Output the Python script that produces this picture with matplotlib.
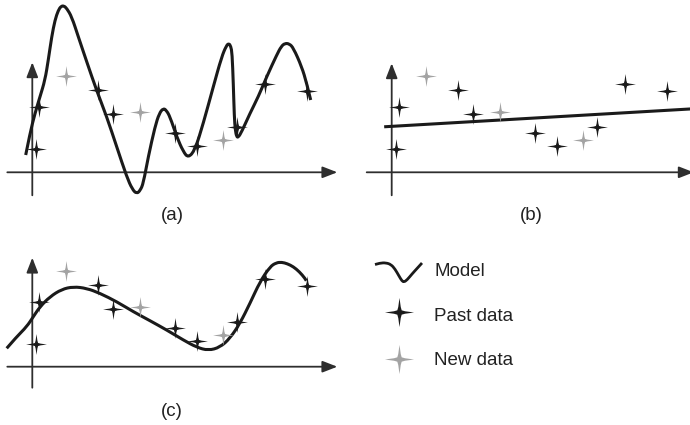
import numpy as np
import matplotlib
matplotlib.use("Agg")
import matplotlib.pyplot as plt
from matplotlib.path import Path
from matplotlib.patches import PathPatch

plt.rcParams['font.family'] = ['Liberation Sans', 'DejaVu Sans']

# ---- data (shared by all panels) ----
past_x = [4, 7, 66, 81, 143, 165, 205, 233, 275]
past_y = [23, 65, 82, 58, 39, 26, 45, 88, 81]
new_x = [34, 108, 191]
new_y = [96, 60, 32]

# (a) over-fitted model curve
model_a_x = [-6.6, -2.3, 2.7, 7.7, 12.7, 16, 19.4, 22.7, 26, 28.7, 31.5, 34.4, 39.4, 46, 54.4,
             64.4, 74.4, 84.4, 94.4, 100, 104.4, 108, 111, 116, 122.7, 127, 131, 134,
             137.7, 144.4, 151, 156, 162.7, 171, 181, 189.4, 194, 196.5, 198.5, 199.8,
             201, 202, 203, 204.4, 206, 209.4, 217.7, 226, 234.4, 244.4, 249, 252.7,
             257, 261, 269.4, 274.4, 278.4]
model_a_y = [17.3, 39, 59, 75.6, 92.3, 112.3, 135.6, 152.3, 162, 166, 166.5, 164, 155.6, 135.6, 110.6,
             81.6, 55.6, 25.6, -4.4, -17, -21.5, -18, -11, 15.6, 45.6, 59, 64, 62,
             55.6, 35.6, 20.6, 14.5, 22.3, 49, 85.6, 115.6, 126.5, 129, 126, 119,
             89, 55.6, 42, 35.5, 35, 40.6, 59, 75.6, 95.6, 117.3, 126, 129,
             128.5, 124.5, 105.6, 89, 72.3]

# (b) under-fitted model line
model_b_x = [-6, 310]
model_b_y = [45.6, 64.0]

# (c) well-fitted model curve
model_c_x = [-25.6, -15.6, -5.6, 1, 7.7, 17.7, 29.4, 41, 54.4, 67.7, 84.4, 101, 117.7,
             134.4, 151, 164.4, 176, 187.7, 197.7, 207.7, 217.7, 227.7, 237.7, 244,
             249.4, 255, 261, 267, 272.7, 274]
model_c_y = [18.4, 30, 40, 50, 60, 70, 77.4, 80, 78.4, 73.4, 65, 55, 46,
             36.7, 26.7, 19.4, 16.2, 19.4, 28.4, 43.4, 63.4, 85, 100, 104,
             104.5, 103, 100, 95, 88.4, 86]

labels = ["(a)", "(b)", "(c)"]
legend_labels = ["Model", "Past data", "New data"]

# legend glyph for the model curve
legend_curve_x = [375, 380, 386, 391, 395, 399, 402, 404, 407, 412, 417, 422]
legend_curve_y = [264.5, 263, 262.8, 264.5, 269, 276, 281, 282, 280, 274, 268.5, 263]

BLACK = '#1a1a1a'
GREY = '#a3a3a3'
AXC = '#2e2e2e'

# concave four-pointed star marker
sv = [(1, 0), (0.38, 0.085), (0.15, 0.15), (0.085, 0.38),
      (0, 1), (-0.085, 0.38), (-0.15, 0.15), (-0.38, 0.085),
      (-1, 0), (-0.38, -0.085), (-0.15, -0.15), (-0.085, -0.38),
      (0, -1), (0.085, -0.38), (0.15, -0.15), (0.38, -0.085), (1, 0)]
star = Path(sv, [Path.MOVETO] + [Path.LINETO] * (len(sv) - 2) + [Path.CLOSEPOLY])

W, H = 690, 425
fig = plt.figure(figsize=(6.9, 4.25), dpi=100)


def make_ax(px0, py0, px1, py1, ox, oy):
    ax = fig.add_axes([px0 / W, 1 - py1 / H, (px1 - px0) / W, (py1 - py0) / H])
    ax.set_xlim(px0 - ox, px1 - ox)
    ax.set_ylim(oy - py1, oy - py0)
    ax.axis('off')
    return ax


def draw_axes(ax, x0, x1, y0, y1):
    kw = dict(arrowstyle='-|>,head_length=0.9,head_width=0.35', lw=1.3, color=AXC,
              shrinkA=0, shrinkB=0, mutation_scale=10)
    ax.annotate('', xy=(x1, 0), xytext=(x0, 0), arrowprops=kw, annotation_clip=False)
    ax.annotate('', xy=(0, y1), xytext=(0, y0), arrowprops=kw, annotation_clip=False)


def smooth_curve(ax, xs, ys, lw=2.2):
    # quadratic Bezier path through the read points (rendered by matplotlib)
    p = np.column_stack([xs, ys])
    verts = [p[0]]
    codes = [Path.MOVETO]
    for i in range(1, len(p) - 1):
        mid = (p[i] + p[i + 1]) / 2 if i < len(p) - 2 else p[i + 1]
        verts += [p[i], mid]
        codes += [Path.CURVE3, Path.CURVE3]
    patch = PathPatch(Path(verts, codes), fill=False, edgecolor=BLACK, lw=lw,
                      capstyle='butt', joinstyle='round', zorder=3)
    ax.add_patch(patch)


def draw_points(ax):
    ax.plot(past_x, past_y, ls='none', marker=star, ms=15, color=BLACK, mew=0, zorder=4)
    ax.plot(new_x, new_y, ls='none', marker=star, ms=15, color=GREY, mew=0, zorder=4)


# panel (a)
axa = make_ax(0, 0, 345, 200, 32.3, 172.3)
draw_axes(axa, -25, 305, -23, 110)
smooth_curve(axa, model_a_x, model_a_y)
draw_points(axa)

# panel (b)
axb = make_ax(345, 0, 690, 200, 391.7, 172.3)
draw_axes(axb, -25, 302, -23, 109)
axb.plot(model_b_x, model_b_y, color=BLACK, lw=2.2, zorder=3)
draw_points(axb)

# panel (c)
axc = make_ax(0, 230, 345, 400, 32.3, 366.7)
draw_axes(axc, -25, 305, -21, 109)
smooth_curve(axc, model_c_x, model_c_y)
draw_points(axc)

# captions
fig.text(172 / W, 1 - 216 / H, labels[0], ha='center', va='center', fontsize=13.5, color='#222')
fig.text(531 / W, 1 - 216 / H, labels[1], ha='center', va='center', fontsize=13.5, color='#222')
fig.text(172 / W, 1 - 412 / H, labels[2], ha='center', va='center', fontsize=13.5, color='#222')

# legend (pixel coordinates axes)
axl = fig.add_axes([345 / W, 0, 345 / W, 195 / H])
axl.set_xlim(345, 690)
axl.set_ylim(425, 230)
axl.axis('off')
smooth_curve(axl, legend_curve_x, legend_curve_y, lw=2.0)
axl.plot([399], [312], ls='none', marker=star, ms=21, color=BLACK, mew=0)
axl.plot([399], [359], ls='none', marker=star, ms=21, color=GREY, mew=0)
for lab, yy in zip(legend_labels, [271.5, 316, 360]):
    axl.text(434, yy, lab, ha='left', va='center', fontsize=13.5, color='#222')

fig.savefig('out.png', dpi=100)
